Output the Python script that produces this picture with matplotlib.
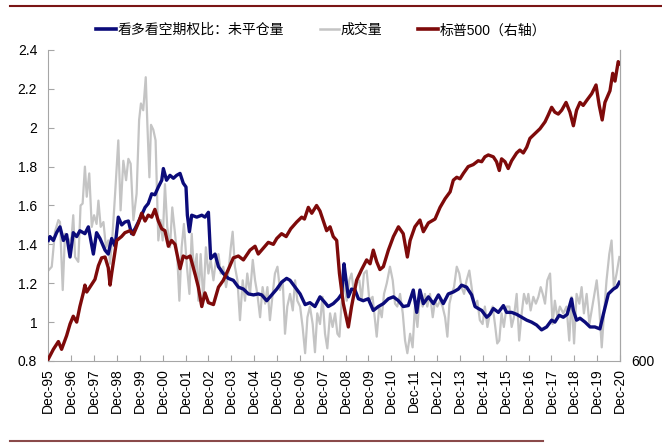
import matplotlib
matplotlib.use("Agg")
import matplotlib.pyplot as plt
from matplotlib.lines import Line2D

plt.rcParams['font.family'] = ['Liberation Sans', 'Noto Sans CJK SC', 'DejaVu Sans']

# x values: years elapsed since Dec-1995
year_labels = ["Dec-95", "Dec-96", "Dec-97", "Dec-98", "Dec-99", "Dec-00", "Dec-01", "Dec-02",
               "Dec-03", "Dec-04", "Dec-05", "Dec-06", "Dec-07", "Dec-08", "Dec-09", "Dec-10",
               "Dec-11", "Dec-12", "Dec-13", "Dec-14", "Dec-15", "Dec-16", "Dec-17", "Dec-18",
               "Dec-19", "Dec-20"]
left_ticks = [0.8, 1.0, 1.2, 1.4, 1.6, 1.8, 2.0, 2.2, 2.4]
left_tick_labels = ["0.8", "1", "1.2", "1.4", "1.6", "1.8", "2", "2.2", "2.4"]

# Put/Call ratio: open interest
oi_t = [0, 0.07, 0.22, 0.36, 0.51, 0.66, 0.8, 0.95, 1.09, 1.24, 1.38, 1.6, 1.75, 1.97, 2.11, 2.26,
        2.48, 2.62, 2.77, 2.92, 3.06, 3.21, 3.35, 3.5, 3.64, 3.79, 4.0, 4.23, 4.37, 4.52, 4.66,
        4.81, 4.96, 5.03, 5.17, 5.32, 5.47, 5.61, 5.76, 5.9, 6.02, 6.08, 6.17, 6.27, 6.49, 6.71,
        6.85, 7.0, 7.1, 7.29, 7.44, 7.65, 7.87, 8.09, 8.31, 8.53, 8.75, 8.97, 9.18, 9.33, 9.55,
        9.77, 9.99, 10.2, 10.42, 10.57, 10.79, 11.01, 11.23, 11.44, 11.66, 11.88, 12.1, 12.24,
        12.46, 12.68, 12.83, 12.93, 13.02, 13.12, 13.26, 13.41, 13.56, 13.77, 13.99, 14.21,
        14.43, 14.65, 14.87, 15.09, 15.31, 15.52, 15.74, 15.96, 16.11, 16.25, 16.4, 16.62,
        16.84, 17.06, 17.27, 17.49, 17.71, 17.93, 18.07, 18.29, 18.51, 18.66, 18.8, 18.95,
        19.17, 19.31, 19.46, 19.68, 19.9, 20.04, 20.26, 20.48, 20.7, 20.92, 21.13, 21.35,
        21.57, 21.79, 22.01, 22.15, 22.34, 22.52, 22.69, 22.88, 22.96, 23.1, 23.25, 23.47,
        23.69, 23.9, 24.12, 24.27, 24.49, 24.71, 24.85, 24.97]
oi_v = [1.42, 1.44, 1.42, 1.46, 1.49, 1.42, 1.45, 1.335, 1.46, 1.44, 1.47, 1.455, 1.49, 1.35, 1.46,
        1.43, 1.37, 1.35, 1.43, 1.39, 1.54, 1.50, 1.515, 1.52, 1.455, 1.48, 1.53, 1.59, 1.61,
        1.66, 1.655, 1.695, 1.73, 1.79, 1.73, 1.755, 1.74, 1.755, 1.765, 1.715, 1.695, 1.55,
        1.465, 1.55, 1.54, 1.55, 1.54, 1.565, 1.327, 1.35, 1.285, 1.25, 1.225, 1.215, 1.18,
        1.17, 1.145, 1.14, 1.145, 1.14, 1.11, 1.14, 1.17, 1.205, 1.225, 1.215, 1.18, 1.145,
        1.09, 1.10, 1.08, 1.13, 1.10, 1.08, 1.095, 1.12, 1.145, 1.30, 1.215, 1.13, 1.17, 1.165,
        1.12, 1.11, 1.12, 1.06, 1.08, 1.095, 1.12, 1.13, 1.11, 1.08, 1.085, 1.165, 1.05, 1.165,
        1.095, 1.13, 1.095, 1.14, 1.095, 1.145, 1.155, 1.17, 1.19, 1.18, 1.14, 1.08, 1.07, 1.06,
        1.025, 1.04, 1.07, 1.05, 1.085, 1.05, 1.05, 1.04, 1.025, 1.01, 1.0, 0.985, 0.96, 0.975,
        1.01, 1.0, 1.035, 1.025, 1.04, 1.12, 1.06, 1.01, 1.02, 1.0, 0.975, 0.975, 0.965, 1.04,
        1.145, 1.17, 1.18, 1.205]

# Put/Call ratio: volume
vol_t = [0, 0.15, 0.29, 0.44, 0.51, 0.63, 0.73, 0.87, 1.02, 1.09, 1.17, 1.31, 1.41, 1.5, 1.6, 1.68,
         1.79, 1.9, 2.0, 2.11, 2.19, 2.29, 2.41, 2.52, 2.62, 2.7, 2.81, 2.92, 3.06, 3.16, 3.28,
         3.4, 3.5, 3.6, 3.72, 3.86, 3.97, 4.05, 4.15, 4.26, 4.33, 4.42, 4.49, 4.59, 4.69, 4.81,
         4.91, 5.0, 5.1, 5.2, 5.32, 5.42, 5.54, 5.64, 5.73, 5.83, 5.93, 6.05, 6.17, 6.27, 6.37,
         6.49, 6.56, 6.66, 6.78, 6.89, 7.0, 7.1, 7.22, 7.33, 7.44, 7.54, 7.65, 7.77, 7.87, 7.98,
         8.06, 8.16, 8.27, 8.38, 8.5, 8.6, 8.7, 8.82, 8.94, 9.04, 9.14, 9.26, 9.37, 9.48, 9.58,
         9.69, 9.81, 9.91, 10.02, 10.13, 10.25, 10.35, 10.45, 10.57, 10.69, 10.79, 10.89, 11.01,
         11.12, 11.23, 11.33, 11.44, 11.56, 11.66, 11.76, 11.88, 11.99, 12.1, 12.2, 12.32, 12.43,
         12.54, 12.64, 12.73, 12.83, 12.93, 13.05, 13.16, 13.26, 13.37, 13.48, 13.6, 13.7, 13.8,
         13.92, 14.04, 14.18, 14.36, 14.47, 14.58, 14.68, 14.8, 14.94, 15.06, 15.16, 15.26,
         15.38, 15.5, 15.6, 15.7, 15.82, 15.93, 16.03, 16.14, 16.25, 16.37, 16.47, 16.57, 16.69,
         16.81, 16.91, 17.01, 17.13, 17.24, 17.35, 17.45, 17.54, 17.64, 17.74, 17.86, 17.97,
         18.07, 18.18, 18.29, 18.41, 18.55, 18.66, 18.76, 18.87, 18.99, 19.09, 19.2, 19.31,
         19.43, 19.53, 19.63, 19.72, 19.82, 19.92, 20.04, 20.16, 20.26, 20.36, 20.48, 20.59,
         20.7, 20.8, 20.92, 20.99, 21.09, 21.21, 21.32, 21.43, 21.53, 21.62, 21.72, 21.82,
         21.94, 22.05, 22.15, 22.26, 22.37, 22.52, 22.66, 22.78, 22.88, 22.99, 23.1, 23.22,
         23.32, 23.42, 23.54, 23.66, 23.76, 23.86, 23.98, 24.09, 24.2, 24.3, 24.41, 24.53,
         24.63, 24.73, 24.85, 24.97]
vol_v = [1.265, 1.285, 1.465, 1.525, 1.515, 1.165, 1.455, 1.405, 1.44, 1.55, 1.335, 1.31, 1.60, 1.61,
         1.80, 1.645, 1.765, 1.49, 1.55, 1.505, 1.625, 1.49, 1.515, 1.385, 1.42, 1.30, 1.455,
         1.66, 1.935, 1.575, 1.83, 1.73, 1.84, 1.815, 1.525, 1.66, 2.04, 2.125, 2.09, 2.26, 2.02,
         1.745, 2.015, 1.99, 1.935, 1.42, 1.525, 1.42, 1.71, 1.49, 1.385, 1.59, 1.455, 1.335,
         1.11, 1.385, 1.505, 1.30, 1.145, 1.455, 1.25, 1.35, 1.11, 1.35, 1.11, 1.385, 1.25, 1.32,
         1.215, 1.32, 1.35, 1.25, 1.285, 1.18, 1.25, 1.385, 1.465, 1.285, 1.215, 1.01, 1.215,
         1.11, 1.25, 1.145, 1.32, 1.215, 1.145, 1.025, 1.18, 1.095, 1.18, 1.01, 1.145, 1.25,
         1.285, 1.165, 1.215, 0.94, 1.08, 1.145, 1.06, 1.215, 1.11, 1.08, 0.975, 0.84, 1.025,
         1.08, 0.99, 0.845, 1.045, 0.99, 1.13, 0.94, 0.865, 1.045, 0.975, 1.045, 0.94, 0.925,
         1.11, 1.20, 1.11, 1.215, 1.25, 1.145, 1.20, 1.215, 1.11, 1.25, 1.265, 1.11, 1.13, 0.925,
         1.08, 1.025, 1.145, 1.20, 1.285, 1.215, 1.095, 1.08, 1.145, 1.045, 0.905, 0.84, 0.94,
         0.87, 1.08, 0.975, 1.145, 1.08, 1.145, 1.08, 1.145, 1.025, 1.11, 1.08, 1.11, 1.08,
         1.025, 0.925, 1.095, 1.145, 1.18, 1.285, 1.25, 1.18, 1.145, 1.215, 1.265, 1.145, 1.08,
         1.11, 1.01, 0.99, 1.08, 0.975, 1.045, 1.08, 0.99, 0.89, 0.905, 1.045, 0.975, 1.08, 1.08,
         0.975, 1.025, 1.145, 0.905, 1.045, 1.145, 1.095, 1.145, 1.06, 1.13, 1.095, 1.13, 1.18,
         1.145, 1.095, 1.215, 1.25, 0.99, 1.11, 1.025, 1.08, 1.045, 1.08, 0.905, 1.13, 0.89,
         1.145, 1.095, 1.18, 1.045, 1.145, 0.99, 1.06, 1.13, 1.215, 1.08, 0.87, 1.045, 1.215,
         1.35, 1.42, 1.18, 1.25, 1.335]

# S&P 500 (right axis)
spx_t = [0, 0.22, 0.44, 0.58, 0.8, 0.95, 1.09, 1.24, 1.38, 1.53, 1.6, 1.68, 1.82, 2.04, 2.19, 2.33,
         2.48, 2.62, 2.7, 2.77, 2.99, 3.2, 3.35, 3.57, 3.72, 3.94, 4.08, 4.23, 4.37, 4.52, 4.66,
         4.81, 4.96, 5.1, 5.25, 5.39, 5.54, 5.76, 5.9, 6.05, 6.2, 6.41, 6.56, 6.71, 6.85, 7.0,
         7.22, 7.44, 7.65, 7.87, 8.09, 8.31, 8.53, 8.82, 9.04, 9.18, 9.4, 9.62, 9.84, 9.99, 10.2,
         10.4, 10.6, 10.86, 11.08, 11.2, 11.37, 11.52, 11.73, 11.88, 12.03, 12.17, 12.32, 12.46,
         12.61, 12.73, 12.9, 13.12, 13.26, 13.48, 13.7, 13.92, 14.07, 14.21, 14.36, 14.5, 14.65,
         14.87, 15.09, 15.31, 15.52, 15.7, 15.82, 16.03, 16.25, 16.4, 16.62, 16.91, 17.13,
         17.35, 17.57, 17.71, 17.86, 18.0, 18.15, 18.36, 18.58, 18.8, 18.95, 19.09, 19.24,
         19.46, 19.6, 19.72, 19.82, 19.97, 20.11, 20.26, 20.48, 20.62, 20.77, 20.92, 21.06,
         21.28, 21.5, 21.72, 21.86, 22.01, 22.15, 22.3, 22.45, 22.64, 22.81, 22.96, 23.1, 23.25,
         23.39, 23.54, 23.76, 23.95, 24.09, 24.22, 24.34, 24.56, 24.68, 24.78, 24.92, 24.98]
spx_v = [618, 705, 775, 705, 828, 933, 1003, 950, 1090, 1213, 1283, 1221, 1265, 1335, 1458, 1528,
         1536, 1440, 1283, 1388, 1685, 1720, 1755, 1773, 1738, 1843, 1930, 1860, 1913, 1895, 1965,
         1860, 1790, 1773, 1633, 1685, 1650, 1431, 1545, 1528, 1545, 1388, 1265, 1090, 1213,
         1125, 1108, 1265, 1326, 1423, 1528, 1545, 1510, 1598, 1633, 1563, 1615, 1668, 1650,
         1703, 1746, 1720, 1790, 1851, 1895, 1878, 1983, 1930, 2000, 1950, 1860, 1773, 1808,
         1720, 1685, 1388, 1116, 906, 1090, 1326, 1423, 1510, 1475, 1598, 1493, 1423, 1449,
         1598, 1720, 1808, 1746, 1536, 1685, 1808, 1869, 1764, 1843, 1878, 1983, 2061, 2123,
         2228, 2254, 2240, 2289, 2350, 2368, 2403, 2394, 2438, 2455, 2438, 2394, 2315, 2420,
         2394, 2333, 2403, 2473, 2499, 2473, 2525, 2604, 2648, 2691, 2753, 2814, 2884, 2840,
         2823, 2858, 2928, 2840, 2718, 2858, 2928, 2901, 2945, 3006, 3085, 2901, 2770, 2928,
         3033, 3190, 3120, 3295, 3278]

legend_labels = ["看多看空期权比：未平仓量", "成交量", "标普500（右轴）"]

BLUE = "#0B0B7A"
GREY = "#C4C4C4"
RED = "#7E0A0A"
AXC = "#A6A6A6"

fig = plt.figure(figsize=(6.62, 4.44), dpi=100)
ax = fig.add_axes([0.073, 0.187, 0.8636, 0.7004])

ax.plot(vol_t, vol_v, color=GREY, lw=1.6, zorder=2)
ax.plot(oi_t, oi_v, color=BLUE, lw=2.4, zorder=3)
ax.set_xlim(0, 25)
ax.set_ylim(0.8, 2.4)
ax.set_yticks(left_ticks)
ax.set_yticklabels(left_tick_labels)
ax.set_xticks(range(len(year_labels)))
ax.set_xticklabels(year_labels, rotation=90)
ax.tick_params(axis='both', direction='in', colors=AXC, labelcolor='black', labelsize=10,
               length=4, width=0.8)
ax.tick_params(axis='y', pad=8)
ax.tick_params(axis='x', pad=5)
ax.spines['top'].set_visible(False)
for s in ['left', 'bottom', 'right']:
    ax.spines[s].set_color(AXC)
    ax.spines[s].set_linewidth(0.8)

ax2 = ax.twinx()
ax2.plot(spx_t, spx_v, color=RED, lw=2.4, zorder=4)
ax2.set_ylim(600, 3400)
ax2.set_yticks([600])
ax2.set_yticklabels(["600"])
ax2.tick_params(axis='y', length=0, labelsize=10, pad=8, labelcolor='black')
for s in ['top', 'left', 'bottom']:
    ax2.spines[s].set_visible(False)
ax2.spines['right'].set_color(AXC)
ax2.spines['right'].set_linewidth(0.8)

handles = [Line2D([], [], color=BLUE, lw=2.6),
           Line2D([], [], color=GREY, lw=1.8),
           Line2D([], [], color=RED, lw=2.6)]
fig.legend(handles, legend_labels, loc='center', bbox_to_anchor=(0.485, 0.932), ncol=3,
           frameon=False, handlelength=1.4, handletextpad=0.1, columnspacing=2.6,
           prop={'family': ['Liberation Sans', 'Noto Sans CJK SC'], 'size': 10})

# report frame lines
fig.add_artist(Line2D([0.015, 1.0], [0.987, 0.987], transform=fig.transFigure, color="#7A1515", lw=1.5))
fig.add_artist(Line2D([0.015, 0.82], [0.007, 0.007], transform=fig.transFigure, color="#8A4A4A", lw=1.5))

fig.savefig("out.png", dpi=100)
